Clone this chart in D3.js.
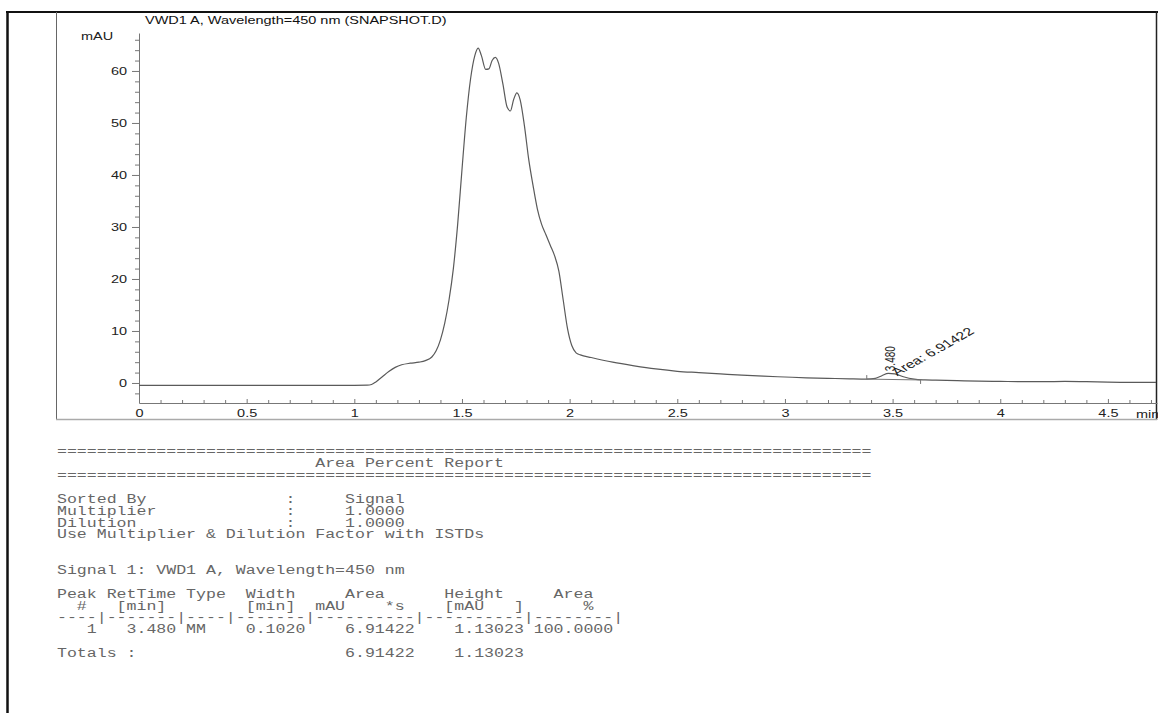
<!DOCTYPE html>
<html>
<head>
<meta charset="utf-8">
<script src="https://cdn.jsdelivr.net/npm/d3@7"></script>
<style>
  html, body { margin: 0; padding: 0; background: #fff; overflow: hidden; }
  svg { display: block; }
</style>
</head>
<body>
<svg id="chart" width="1158" height="713"></svg>
<script>
// ---- VWD1 A trace (450 nm): retention time [min] and response [mAU] ----
const retTime = [
  0.00, 0.50, 1.00, 1.06, 1.08, 1.10, 1.13, 1.16, 1.19, 1.22, 1.26, 1.30, 1.33, 1.36, 1.38,
  1.40, 1.42, 1.44, 1.46, 1.48, 1.50, 1.52, 1.54, 1.56, 1.575, 1.59, 1.61, 1.625, 1.64, 1.655,
  1.67, 1.69, 1.71, 1.725, 1.74, 1.755, 1.77, 1.79, 1.81, 1.83, 1.85, 1.87, 1.89, 1.91, 1.93,
  1.95, 1.97, 1.99, 2.01, 2.03, 2.05, 2.10, 2.20, 2.30, 2.40, 2.50, 2.60, 2.70, 2.80, 2.90,
  3.00, 3.10, 3.20, 3.30, 3.38, 3.42, 3.45, 3.48, 3.51, 3.55, 3.60, 3.65, 3.70, 3.80, 3.90,
  4.00, 4.10, 4.20, 4.30, 4.40, 4.50, 4.60, 4.73
];
const response = [
  -0.45, -0.45, -0.45, -0.42, -0.30, 0.20, 1.20, 2.20, 3.00, 3.50, 3.80, 4.00, 4.30, 5.00, 6.20,
  8.30, 11.5, 16.0, 22.0, 30.5, 41.0, 51.0, 58.5, 63.0, 64.4, 63.0, 60.3, 60.4, 62.0, 62.6,
  61.5, 57.5, 53.0, 52.3, 54.5, 55.8, 54.5, 49.5, 43.0, 38.0, 33.5, 30.5, 28.5, 26.5, 24.5,
  21.5, 16.0, 10.5, 7.20, 5.80, 5.40, 4.90, 4.00, 3.30, 2.70, 2.25, 2.00, 1.75, 1.50, 1.30,
  1.15, 1.00, 0.90, 0.80, 0.75, 0.90, 1.40, 1.85, 1.75, 1.20, 0.75, 0.60, 0.55, 0.45, 0.35,
  0.30, 0.25, 0.25, 0.30, 0.25, 0.15, 0.10, 0.10
];

// axis ticks
const yTicks = [0, 10, 20, 30, 40, 50, 60];
const xTicks = [0, 0.5, 1, 1.5, 2, 2.5, 3, 3.5, 4, 4.5];
const xTickLabels = ["0", "0.5", "1", "1.5", "2", "2.5", "3", "3.5", "4", "4.5"];

// integrated peak
const peakNumbers = [1];
const peakRetTimes = [3.480];
const peakTypes = ["MM"];
const peakWidths = [0.1020];
const peakAreas = [6.91422];
const peakHeights = [1.13023];
const peakAreaPercents = [100.0000];
const peakBaseline = [[3.38, 0.75], [3.63, 0.58]];   // [min, mAU] start / end of integration

// report settings
const settingLabels = ["Sorted By", "Multiplier", "Dilution"];
const settingValues = ["Signal", "1.0000", "1.0000"];

// ---------------------------------------------------------------------------
const svg = d3.select("#chart");
const SANS = "'Liberation Sans', Arial, Helvetica, sans-serif";
const MONO = "'Liberation Mono', 'Courier New', monospace";
const STRETCH = 1.45;      // printed chart lettering is wide
const MONO_STRETCH = 1.38;

// page frame
const frame = svg.append("g");
frame.append("line").attr("x1", 6).attr("x2", 1158).attr("y1", 12).attr("y2", 12)
  .attr("stroke", "#111").attr("stroke-width", 2);
frame.append("line").attr("x1", 7.5).attr("x2", 7.5).attr("y1", 11).attr("y2", 713)
  .attr("stroke", "#111").attr("stroke-width", 2.5);
frame.append("line").attr("x1", 1156.5).attr("x2", 1156.5).attr("y1", 11).attr("y2", 420)
  .attr("stroke", "#222").attr("stroke-width", 1.5);
frame.append("line").attr("x1", 56.5).attr("x2", 56.5).attr("y1", 12).attr("y2", 420)
  .attr("stroke", "#666").attr("stroke-width", 1);
frame.append("line").attr("x1", 56).attr("x2", 1157).attr("y1", 419.5).attr("y2", 419.5)
  .attr("stroke", "#aaa").attr("stroke-width", 1.5);

// scales
const x = d3.scaleLinear().domain([0, 4.728]).range([139, 1157]);
const y = d3.scaleLinear().domain([-3.85, 67.3]).range([403, 33]);

// y axis: minor ticks every 2 mAU, labelled every 10
const yMinor = d3.range(-2, 67, 2).filter(v => v % 10 !== 0);
svg.append("g").attr("transform", "translate(139,0)")
  .call(d3.axisLeft(y).tickValues(yMinor).tickSize(4).tickFormat("").tickSizeOuter(0))
  .call(g => g.select(".domain").remove());
const gy = svg.append("g").attr("transform", "translate(139,0)")
  .call(d3.axisLeft(y).tickValues(yTicks).tickSize(7).tickPadding(5).tickSizeOuter(0));

// x axis: ticks every 0.1 min pointing into the plot
const xMinor = d3.range(0, 4.75, 0.1).filter(v => Math.abs(v * 2 - Math.round(v * 2)) > 1e-6);
svg.append("g").attr("transform", "translate(0,403)")
  .call(d3.axisBottom(x).tickValues(xMinor).tickSize(-3).tickFormat("").tickSizeOuter(0))
  .call(g => g.select(".domain").remove());
const gx = svg.append("g").attr("transform", "translate(0,403)")
  .call(d3.axisBottom(x).tickValues(xTicks).tickSize(-4).tickPadding(7).tickSizeOuter(0)
    .tickFormat((d, i) => xTickLabels[i]));

svg.selectAll(".domain, .tick line").attr("stroke", "#777").attr("stroke-width", 1);
svg.selectAll(".tick text")
  .attr("font-family", SANS).attr("font-size", 10).attr("fill", "#222");
gx.selectAll(".tick text").attr("transform", `scale(${STRETCH},1)`);
gy.selectAll(".tick text").each(function () {
  const t = d3.select(this);
  t.attr("x", +t.attr("x") / STRETCH).attr("transform", `scale(${STRETCH},1)`);
});

// titles
function label(g, tx, ty, text, extra, size) {
  return g.append("text")
    .attr("transform", `translate(${tx},${ty}) scale(${STRETCH},1)` + (extra || ""))
    .attr("font-family", SANS).attr("font-size", size || 10).attr("fill", "#111")
    .text(text);
}
label(svg, 145, 24, "VWD1 A, Wavelength=450 nm (SNAPSHOT.D)");
label(svg, 81, 40, "mAU").attr("fill", "#222");
label(svg, 1136, 418, "min").attr("fill", "#222");

// chromatogram trace
svg.append("clipPath").attr("id", "plotClip")
  .append("rect").attr("x", 139).attr("y", 13).attr("width", 1017).attr("height", 405);
const trace = retTime.map((t, i) => [t, response[i]]);
svg.append("path")
  .datum(trace)
  .attr("clip-path", "url(#plotClip)")
  .attr("fill", "none")
  .attr("stroke", "#5a5a5a")
  .attr("stroke-width", 1.2)
  .attr("d", d3.line().x(d => x(d[0])).y(d => y(d[1])).curve(d3.curveMonotoneX));

// integration baseline and its start / end marks
const pk = svg.append("g").attr("stroke", "#777").attr("stroke-width", 1).attr("fill", "none");
pk.append("line")
  .attr("x1", x(peakBaseline[0][0])).attr("y1", y(peakBaseline[0][1]))
  .attr("x2", x(peakBaseline[1][0])).attr("y2", y(peakBaseline[1][1]));
pk.append("line")
  .attr("x1", x(peakBaseline[0][0])).attr("x2", x(peakBaseline[0][0]))
  .attr("y1", y(peakBaseline[0][1]) - 4).attr("y2", y(peakBaseline[0][1]));
pk.append("line")
  .attr("x1", x(peakBaseline[1][0])).attr("x2", x(peakBaseline[1][0]))
  .attr("y1", y(peakBaseline[1][1])).attr("y2", y(peakBaseline[1][1]) + 4);

// peak annotations
const apexX = x(peakRetTimes[0]);
const apexY = y(peakBaseline[0][1] + peakHeights[0]);
label(svg, apexX + 7, apexY - 2, peakRetTimes[0].toFixed(3), " rotate(-90)").attr("fill", "#222");
label(svg, apexX + 9, apexY + 3, "Area: " + peakAreas[0].toFixed(5), " rotate(-39)", 11).attr("fill", "#222");

// ---------------------------------------------------------------------------
// Area percent report
const rule = "=".repeat(82);
const fmtRow = i =>
  String(peakNumbers[i]).padStart(4) + " " +
  peakRetTimes[i].toFixed(3).padStart(7) + " " +
  peakTypes[i].padEnd(4) + " " +
  peakWidths[i].toFixed(4).padStart(7) + " " +
  peakAreas[i].toFixed(5).padStart(10) + " " +
  peakHeights[i].toFixed(5).padStart(10) + " " +
  peakAreaPercents[i].toFixed(4).padStart(8);
const totalArea = d3.sum(peakAreas), totalHeight = d3.sum(peakHeights);

const reportLines = [
  rule,
  " ".repeat(26) + "Area Percent Report",
  rule,
  "",
  ...settingLabels.map((l, i) => l.padEnd(23) + ":" + " ".repeat(5) + settingValues[i]),
  "Use Multiplier & Dilution Factor with ISTDs",
  "",
  "",
  "Signal 1: VWD1 A, Wavelength=450 nm",
  "",
  "Peak RetTime Type  Width     Area      Height     Area",
  "  #   [min]        [min]  mAU    *s    [mAU   ]      %",
  "----|-------|----|-------|----------|----------|--------|",
  ...peakNumbers.map((d, i) => fmtRow(i)),
  "",
  "Totals :".padEnd(26) + totalArea.toFixed(5).padStart(10) + " " + totalHeight.toFixed(5).padStart(10)
];

const rep = svg.append("g")
  .attr("transform", `translate(57,0) scale(${MONO_STRETCH},1)`)
  .attr("font-family", MONO).attr("font-size", 12).attr("fill", "#666");
rep.selectAll("text")
  .data(reportLines)
  .join("text")
  .attr("x", 0)
  .attr("y", (d, i) => 455.5 + i * 11.85)
  .attr("xml:space", "preserve")
  .style("white-space", "pre")
  .text(d => d);
</script>
</body>
</html>
